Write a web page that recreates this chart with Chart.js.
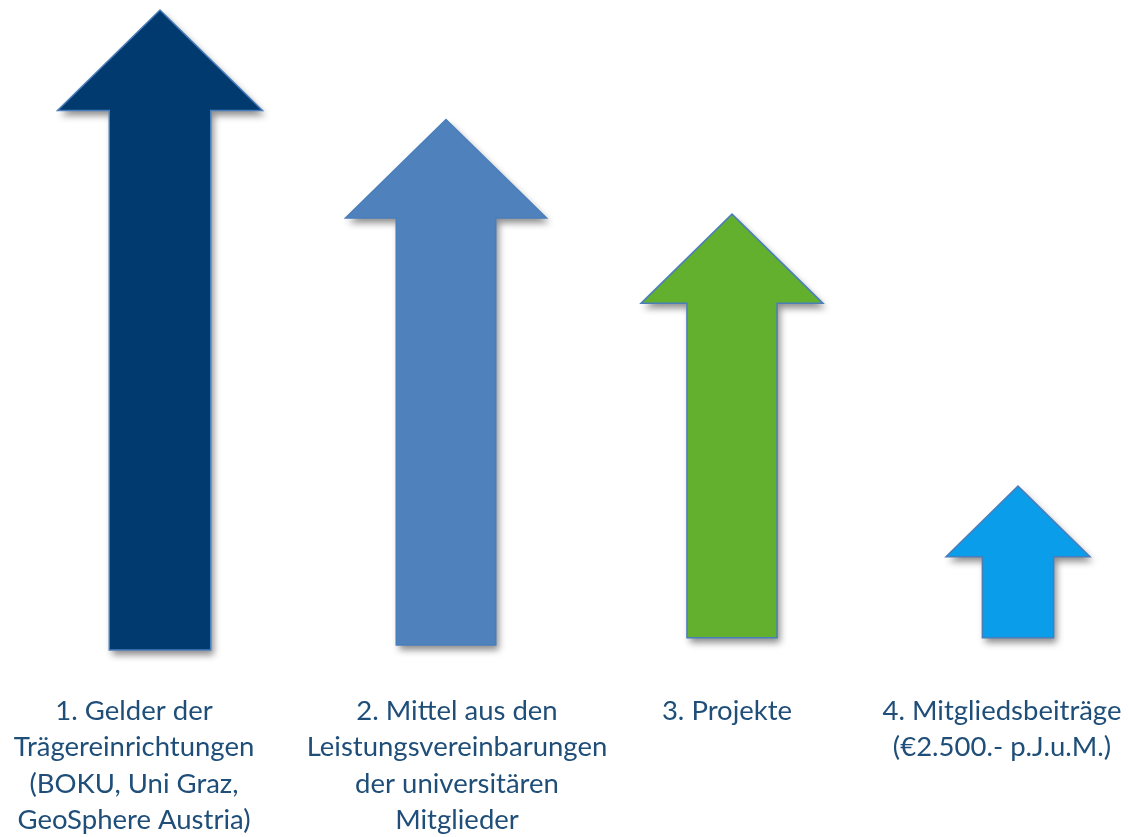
<!DOCTYPE html>
<html>
<head>
<meta charset="utf-8">
<script src="https://cdn.jsdelivr.net/npm/chart.js@4/dist/chart.umd.min.js"></script>
<style>
	html, body { margin: 0; padding: 0; background: #fff; overflow: hidden; }
	#wrap { width: 1129px; height: 837px; position: relative; }
</style>
</head>
<body>
<div id="wrap"><canvas id="arrowChart"></canvas></div>
<script>
const categories = [
	['1. Gelder der', 'Trägereinrichtungen', '(BOKU, Uni Graz,', 'GeoSphere Austria)'],
	['2. Mittel aus den', 'Leistungsvereinbarungen', 'der universitären', 'Mitglieder'],
	['3. Projekte'],
	['4. Mitgliedsbeiträge', '(€2.500.- p.J.u.M.)'],
];
const tipValues = [100, 82.9, 68.1, 25.6];
const baseValues = [0, 0.8, 1.9, 1.9];

const arrowColors = ['#013a6f', '#4f81bd', '#63b02f', '#0a9de9'];
const headWidths = [205, 201, 182, 144];
const labelShift = [-26, 11, -5, -16];

const arrowPlugin = {
	id: 'arrows',
	beforeDatasetDraw() {
		return false;
	},
	afterDatasetsDraw(chart) {
		const ctx = chart.ctx;
		const meta = chart.getDatasetMeta(0);
		meta.data.forEach((el, i) => {
			const hw = headWidths[i];
			const sw = hw * 0.495;
			const hh = hw * 0.49;
			const x = el.x, top = el.y, bottom = el.base;
			ctx.save();
			ctx.beginPath();
			ctx.moveTo(x, top);
			ctx.lineTo(x + hw / 2, top + hh);
			ctx.lineTo(x + sw / 2, top + hh);
			ctx.lineTo(x + sw / 2, bottom);
			ctx.lineTo(x - sw / 2, bottom);
			ctx.lineTo(x - sw / 2, top + hh);
			ctx.lineTo(x - hw / 2, top + hh);
			ctx.closePath();
			ctx.shadowColor = 'rgba(0,0,0,0.45)';
			ctx.shadowBlur = 7;
			ctx.shadowOffsetX = 3;
			ctx.shadowOffsetY = 5;
			ctx.fillStyle = arrowColors[i];
			ctx.fill();
			ctx.shadowColor = 'transparent';
			ctx.lineWidth = 1.5;
			ctx.strokeStyle = '#4a7ebb';
			ctx.stroke();
			ctx.restore();
		});
	},
	afterDraw(chart) {
		const ctx = chart.ctx;
		const xs = chart.scales.x;
		ctx.save();
		ctx.font = '27.5px Lato, "Open Sans", sans-serif';
		ctx.fillStyle = '#1f4e79';
		ctx.textAlign = 'center';
		ctx.textBaseline = 'alphabetic';
		categories.forEach((lines, i) => {
			const cx = xs.getPixelForValue(i) + labelShift[i];
			lines.forEach((line, j) => {
				ctx.fillText(line, cx, 720 + j * 36.3);
			});
		});
		ctx.restore();
	},
};

new Chart(document.getElementById('arrowChart'), {
	type: 'bar',
	data: {
		labels: categories.map((c) => c.join(' ')),
		datasets: [
			{
				data: tipValues.map((v, i) => [baseValues[i], v]),
				backgroundColor: arrowColors,
				borderWidth: 0,
			},
		],
	},
	options: {
		responsive: true,
		maintainAspectRatio: false,
		animation: false,
		layout: { padding: { left: 160, right: 111, top: 10, bottom: 187 } },
		plugins: {
			legend: { display: false },
			tooltip: { enabled: false },
		},
		scales: {
			x: { display: false, offset: false, grid: { display: false } },
			y: { display: false, min: 0, max: 100, grid: { display: false } },
		},
	},
	plugins: [arrowPlugin],
});
</script>
</body>
</html>
